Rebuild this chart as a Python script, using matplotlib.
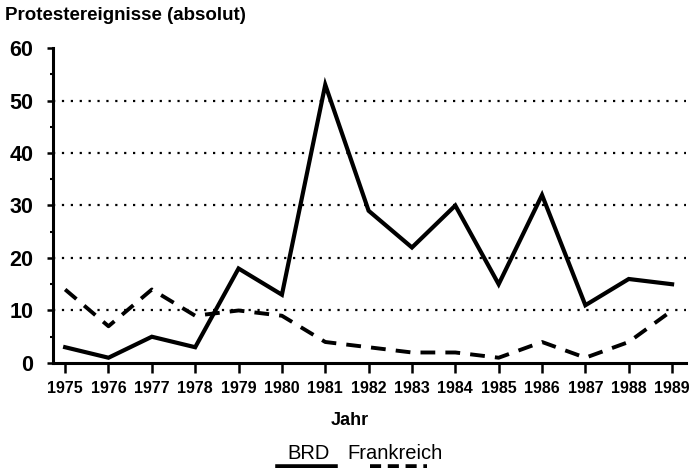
import matplotlib.pyplot as plt
from matplotlib.lines import Line2D
from matplotlib.ticker import MultipleLocator

years = [1975, 1976, 1977, 1978, 1979, 1980, 1981, 1982, 1983, 1984, 1985, 1986, 1987, 1988, 1989]
brd = [3, 1, 5, 3, 18, 13, 53, 29, 22, 30, 15, 32, 11, 16, 15]
frankreich = [14, 7, 14, 9, 10, 9, 4, 3, 2, 2, 1, 4, 1, 4, 10]
y_ticks = [0, 10, 20, 30, 40, 50, 60]

plt.rcParams['font.family'] = ['Liberation Sans', 'DejaVu Sans']

fig = plt.figure(figsize=(6.91, 4.68), dpi=100)
ax = fig.add_axes([0.0767, 0.2244, 0.916, 0.673])

# dotted horizontal guide lines
for y in y_ticks[1:-1]:
    ax.axhline(y, color='black', lw=1.6, linestyle=(0, (1, 3)), zorder=1)

ax.plot(years, brd, color='black', lw=3, solid_joinstyle='miter', zorder=3)
ax.plot(years, frankreich, color='black', lw=2.8, linestyle=(0, (3.8, 2.6)), zorder=3)

ax.set_xlim(1974.72, 1989.32)
ax.set_ylim(0, 60)
ax.set_xticks(years)
ax.set_xticklabels([str(y) for y in years], fontsize=11.5, fontweight='bold')
ax.set_yticks(y_ticks)
ax.set_yticklabels([str(y) for y in y_ticks], fontsize=15.5, fontweight='bold')
ax.yaxis.set_minor_locator(MultipleLocator(5))

ax.spines['top'].set_visible(False)
ax.spines['right'].set_visible(False)
ax.spines['left'].set_linewidth(2.2)
ax.spines['bottom'].set_linewidth(2.2)
ax.tick_params(axis='x', length=7, width=1.8, pad=6)
ax.tick_params(axis='y', which='major', length=4, width=1.8, pad=10)
ax.tick_params(axis='y', which='minor', length=2.5, width=1.5)

ax.set_xlabel('Jahr', fontsize=13, fontweight='bold')
ax.xaxis.set_label_coords(0.469, -0.155)

fig.text(0.007, 0.967, 'Protestereignisse (absolut)', fontsize=13.5,
         fontweight='bold', ha='left', va='center')

# legend underneath
fig.text(0.446, 0.032, 'BRD', fontsize=14.5, ha='center', va='center')
fig.text(0.572, 0.032, 'Frankreich', fontsize=14.5, ha='center', va='center')
fig.lines.append(Line2D([0.402, 0.485], [0.002, 0.002], transform=fig.transFigure,
                        color='black', lw=4))
fig.lines.append(Line2D([0.535, 0.618], [0.002, 0.002], transform=fig.transFigure,
                        color='black', lw=4, linestyle=(0, (2, 1.2))))

fig.savefig('out.png', dpi=100)
